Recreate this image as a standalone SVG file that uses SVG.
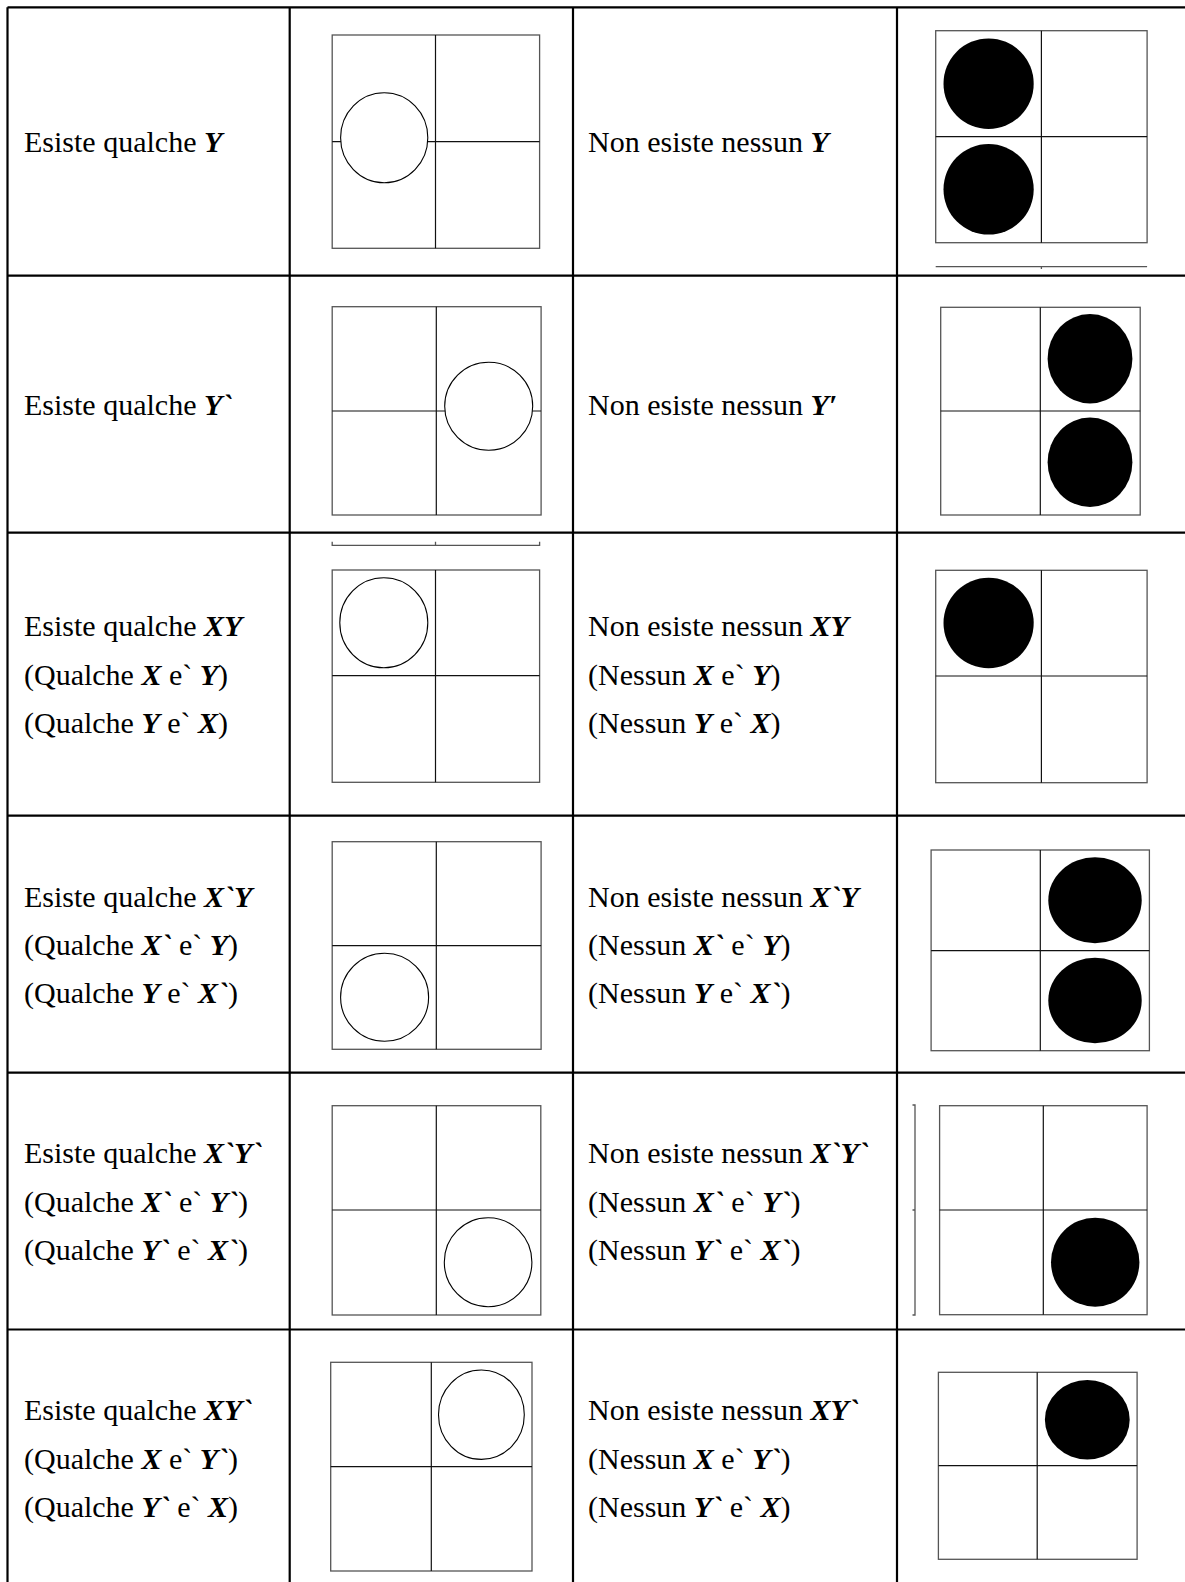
<svg xmlns="http://www.w3.org/2000/svg" width="1185" height="1582" viewBox="0 0 1185 1582">
<style>
.grid{stroke:#000;stroke-width:2.2;fill:none}
.box{fill:none;stroke:#555;stroke-width:1.3}
.dv{stroke:#111;stroke-width:1.2;fill:none}
.o{fill:#fff;stroke:#000;stroke-width:1.1}
.f{fill:#000}
.t{font-family:"Liberation Serif","Times New Roman",serif;font-size:30px;fill:#000}
.v{font-weight:bold;font-style:italic}
</style>
<rect x="0" y="0" width="1185" height="1582" fill="#fff"/>
<g id="grid" class="grid">
<path d="M7.5,7.3V1582M289.7,7.3V1582M573,7.3V1582M897,7.3V1582"/>
<path d="M7.5,7.3H1185M7.5,275.7H1185M7.5,532.7H1185M7.5,815.7H1185M7.5,1072.7H1185M7.5,1329.5H1185"/>
</g>
<g id="connectors"></g>

<!-- Row 1 -->
<g id="r1c1"><text class="t" x="24" y="152">Esiste qualche <tspan class="v">Y</tspan></text></g>
<g id="r1c2">
<rect class="box" x="332.2" y="35" width="207.4" height="213.3"/>
<path class="dv" d="M435.5,35V248.3M332.2,141.7H539.6"/>
<ellipse class="o" cx="384.2" cy="137.7" rx="43.6" ry="45"/>
</g>
<g id="r1c3"><text class="t" x="588" y="152">Non esiste nessun <tspan class="v">Y</tspan></text></g>
<g id="r1c4">
<rect class="box" x="935.7" y="30.7" width="211.4" height="212"/>
<path class="dv" d="M1041.4,30.7V242.7M935.7,136.7H1147.1"/>
<ellipse class="f" cx="988.6" cy="83.7" rx="45.1" ry="45.3"/>
<ellipse class="f" cx="988.6" cy="189.3" rx="45.1" ry="45.3"/>
<path class="box" d="M935.7,266.7H1147.1M1041.4,266.7V269"/>
</g>

<!-- Row 2 -->
<g id="r2c1"><text class="t" x="24" y="415">Esiste qualche <tspan class="v">Y`</tspan></text></g>
<g id="r2c2">
<rect class="box" x="332.2" y="306.7" width="208.9" height="208.3"/>
<path class="dv" d="M436.3,306.7V515M332.2,411H541.1"/>
<ellipse class="o" cx="488.7" cy="406.3" rx="44" ry="44"/>
<path class="box" d="M332.2,541.7V545.3H539.6V541.7M435.5,545.3V541.7"/>
</g>
<g id="r2c3"><text class="t" x="588" y="415">Non esiste nessun <tspan class="v">Y′</tspan></text></g>
<g id="r2c4">
<rect class="box" x="940.7" y="307.3" width="199.5" height="207.7"/>
<path class="dv" d="M1040.3,307.3V515M940.7,411H1140.2"/>
<ellipse class="f" cx="1090" cy="358.7" rx="42.4" ry="44.7"/>
<ellipse class="f" cx="1090" cy="462.3" rx="42.4" ry="44.7"/>
</g>

<!-- Row 3 -->
<g id="r3c1">
<text class="t" x="24" y="636">Esiste qualche <tspan class="v">XY</tspan></text>
<text class="t" x="24" y="684.5">(Qualche <tspan class="v">X</tspan> e` <tspan class="v">Y</tspan>)</text>
<text class="t" x="24" y="733">(Qualche <tspan class="v">Y</tspan> e` <tspan class="v">X</tspan>)</text>
</g>
<g id="r3c2">
<rect class="box" x="332.2" y="570" width="207.4" height="212.3"/>
<path class="dv" d="M435.5,570V782.3M332.2,675.7H539.6"/>
<ellipse class="o" cx="383.8" cy="622.7" rx="44" ry="45"/>
</g>
<g id="r3c3">
<text class="t" x="588" y="636">Non esiste nessun <tspan class="v">XY</tspan></text>
<text class="t" x="588" y="684.5">(Nessun <tspan class="v">X</tspan> e` <tspan class="v">Y</tspan>)</text>
<text class="t" x="588" y="733">(Nessun <tspan class="v">Y</tspan> e` <tspan class="v">X</tspan>)</text>
</g>
<g id="r3c4">
<rect class="box" x="935.7" y="570.3" width="211.4" height="212.4"/>
<path class="dv" d="M1041.4,570.3V782.7M935.7,676H1147.1"/>
<ellipse class="f" cx="988.6" cy="623" rx="45.1" ry="45.3"/>
</g>

<!-- Row 4 -->
<g id="r4c1">
<text class="t" x="24" y="906.5">Esiste qualche <tspan class="v">X`Y</tspan></text>
<text class="t" x="24" y="955">(Qualche <tspan class="v">X`</tspan> e` <tspan class="v">Y</tspan>)</text>
<text class="t" x="24" y="1003">(Qualche <tspan class="v">Y</tspan> e` <tspan class="v">X`</tspan>)</text>
</g>
<g id="r4c2">
<rect class="box" x="332.2" y="841.7" width="208.9" height="207.6"/>
<path class="dv" d="M436.3,841.7V1049.3M332.2,945.7H541.1"/>
<ellipse class="o" cx="384.6" cy="997.3" rx="44" ry="44"/>
</g>
<g id="r4c3">
<text class="t" x="588" y="906.5">Non esiste nessun <tspan class="v">X`Y</tspan></text>
<text class="t" x="588" y="955">(Nessun <tspan class="v">X`</tspan> e` <tspan class="v">Y</tspan>)</text>
<text class="t" x="588" y="1003">(Nessun <tspan class="v">Y</tspan> e` <tspan class="v">X`</tspan>)</text>
</g>
<g id="r4c4">
<rect class="box" x="931.1" y="850" width="218.3" height="200.7"/>
<path class="dv" d="M1040.3,850V1050.7M931.1,950.7H1149.4"/>
<ellipse class="f" cx="1095" cy="900.3" rx="46.7" ry="43"/>
<ellipse class="f" cx="1095" cy="1000.5" rx="46.7" ry="42.8"/>
</g>

<!-- Row 5 -->
<g id="r5c1">
<text class="t" x="24" y="1163.3">Esiste qualche <tspan class="v">X`Y`</tspan></text>
<text class="t" x="24" y="1211.7">(Qualche <tspan class="v">X`</tspan> e` <tspan class="v">Y`</tspan>)</text>
<text class="t" x="24" y="1260">(Qualche <tspan class="v">Y`</tspan> e` <tspan class="v">X`</tspan>)</text>
</g>
<g id="r5c2">
<rect class="box" x="332.2" y="1105.7" width="208.6" height="209.3"/>
<path class="dv" d="M436.3,1105.7V1315M332.2,1210H540.8"/>
<ellipse class="o" cx="488.1" cy="1262.2" rx="43.8" ry="44.5"/>
</g>
<g id="r5c3">
<text class="t" x="588" y="1163.3">Non esiste nessun <tspan class="v">X`Y`</tspan></text>
<text class="t" x="588" y="1211.7">(Nessun <tspan class="v">X`</tspan> e` <tspan class="v">Y`</tspan>)</text>
<text class="t" x="588" y="1260">(Nessun <tspan class="v">Y`</tspan> e` <tspan class="v">X`</tspan>)</text>
</g>
<g id="r5c4">
<rect class="box" x="939.6" y="1105.7" width="207.5" height="209"/>
<path class="dv" d="M1043.3,1105.7V1314.7M939.6,1210H1147.1"/>
<ellipse class="f" cx="1095.2" cy="1262.2" rx="44.2" ry="44.5"/>
<path class="box" d="M912.5,1105H915V1315H912.5M915,1210H912.5"/>
</g>

<!-- Row 6 -->
<g id="r6c1">
<text class="t" x="24" y="1420">Esiste qualche <tspan class="v">XY`</tspan></text>
<text class="t" x="24" y="1468.5">(Qualche <tspan class="v">X</tspan> e` <tspan class="v">Y`</tspan>)</text>
<text class="t" x="24" y="1517">(Qualche <tspan class="v">Y`</tspan> e` <tspan class="v">X</tspan>)</text>
</g>
<g id="r6c2">
<rect class="box" x="330.7" y="1362.3" width="201.3" height="208.7"/>
<path class="dv" d="M431.3,1362.3V1571M330.7,1466.7H532"/>
<ellipse class="o" cx="481.4" cy="1414.7" rx="42.9" ry="44.7"/>
</g>
<g id="r6c3">
<text class="t" x="588" y="1420">Non esiste nessun <tspan class="v">XY`</tspan></text>
<text class="t" x="588" y="1468.5">(Nessun <tspan class="v">X</tspan> e` <tspan class="v">Y`</tspan>)</text>
<text class="t" x="588" y="1517">(Nessun <tspan class="v">Y`</tspan> e` <tspan class="v">X</tspan>)</text>
</g>
<g id="r6c4">
<rect class="box" x="938.4" y="1372.3" width="198.7" height="187"/>
<path class="dv" d="M1037.2,1372.3V1559.3M938.4,1465.7H1137.1"/>
<ellipse class="f" cx="1087.3" cy="1419.7" rx="42.4" ry="39.7"/>
</g>
</svg>
